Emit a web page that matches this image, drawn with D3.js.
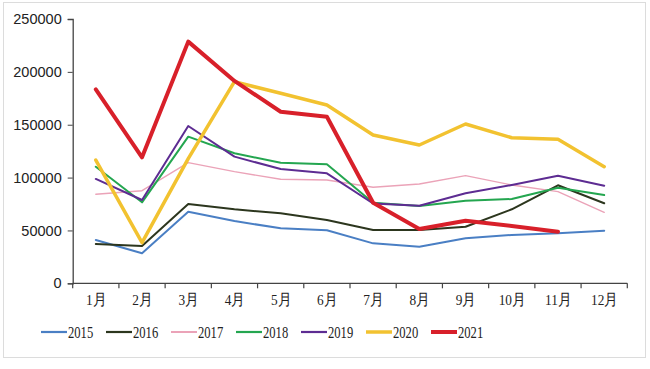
<!DOCTYPE html>
<html><head><meta charset="utf-8">
<script src="https://cdn.jsdelivr.net/npm/d3@7"></script>
<style>body{margin:0;background:#fff}svg{display:block}</style>
</head><body>
<svg id="c" width="650" height="369"></svg>
<script>
const months = ["1月","2月","3月","4月","5月","6月","7月","8月","9月","10月","11月","12月"];
const yTicks = [0,50000,100000,150000,200000,250000];
const years = ["2015","2016","2017","2018","2019","2020","2021"];
const s2015 = [41000,28400,67700,58900,52000,50100,37800,34600,42600,45700,47300,49800];
const s2016 = [37200,35300,75000,70000,66200,59900,50400,50400,53500,70000,92700,75700];
const s2017 = [84200,87600,114100,105600,98400,97700,90800,93900,101800,93000,86700,67100];
const s2018 = [110300,76600,138700,123000,114100,112600,76200,73100,78100,79700,90400,83500];
const s2019 = [98700,78800,148800,119800,108100,104000,75500,73400,85100,93000,101800,92300];
const s2020 = [116600,38400,118000,190700,179700,168700,140300,130800,150700,137700,136200,110300];
const s2021 = [183500,119200,228600,191400,162300,157600,76200,51400,59200,54200,48800];
const colors = ["#4a7fc4","#2c361e","#eba3b8","#24a650","#5d2c92","#f2c230","#d8202a"];
const widths = [2,2,1.4,2,2,3.5,4];
const seriesAll = [s2015,s2016,s2017,s2018,s2019,s2020,s2021];

const svg = d3.select("#c");
svg.append("rect").attr("x",3.5).attr("y",2.5).attr("width",642).attr("height",355)
  .attr("fill","#fff").attr("stroke","#dcdcdc");

const x = d3.scaleBand().domain(months).range([72.7,627.3]);
const y = d3.scaleLinear().domain([0,250000]).range([283.3,19]);

// y axis
const ya = svg.append("g").attr("transform","translate(72.7,0)")
  .call(d3.axisLeft(y).tickValues(yTicks).tickSize(5).tickPadding(6).tickFormat(d=>String(d)));
ya.select(".domain").attr("stroke","#444").attr("stroke-width",1.3);
ya.selectAll(".tick line").attr("stroke","#444");
ya.selectAll("text").attr("font-family","'Liberation Sans',Arial,sans-serif").attr("font-size","14.5px").attr("fill","#222");

// x axis
const xa = svg.append("g").attr("transform","translate(0,283.3)");
xa.append("line").attr("x1",x.range()[0]).attr("x2",x.range()[1]).attr("stroke","#444").attr("stroke-width",1.3);
const bounds = months.map(m=>x(m)).concat([x.range()[1]]);
xa.selectAll("line.tk").data(bounds).enter().append("line").attr("class","tk")
  .attr("x1",d=>d).attr("x2",d=>d).attr("y1",0).attr("y2",5).attr("stroke","#444").attr("stroke-width",1.2);
xa.selectAll("text").data(months).enter().append("text")
  .attr("transform",d=>`translate(${x(d)+x.bandwidth()/2},22) scale(0.86,1)`)
  .attr("text-anchor","middle")
  .attr("font-family","'Liberation Serif','Times New Roman',serif").attr("font-size","15.5px").attr("fill","#222")
  .text(d=>d);

// lines
const line = d3.line().x((d,i)=>x(months[i])+x.bandwidth()/2).y(d=>y(d));
seriesAll.forEach((s,k)=>{
  svg.append("path").datum(s).attr("d",line).attr("fill","none")
    .attr("stroke",colors[k]).attr("stroke-width",widths[k]).attr("stroke-linejoin","round").attr("stroke-linecap","round");
});

// legend
const lg = svg.append("g").attr("transform","translate(0,332)");
years.forEach((yr,k)=>{
  const x0 = 41 + k*65;
  lg.append("line").attr("x1",x0).attr("x2",x0+26).attr("y1",0).attr("y2",0)
    .attr("stroke",colors[k]).attr("stroke-width",widths[k]===1.4?2:Math.max(widths[k],2.2));
  lg.append("text").attr("transform",`translate(${x0+27},6) scale(0.72,1)`)
    .attr("font-family","'Liberation Serif','Times New Roman',serif").attr("font-size","17.5px").attr("fill","#222")
    .text(yr);
});
</script>
</body></html>
